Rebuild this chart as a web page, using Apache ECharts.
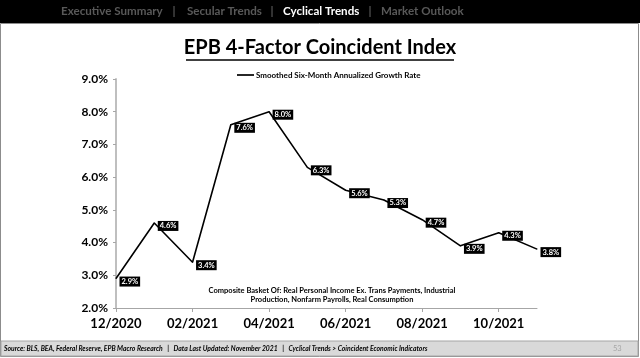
<!DOCTYPE html>
<html><head><meta charset="utf-8">
<script src="https://cdn.jsdelivr.net/npm/echarts@6/dist/echarts.min.js"></script>
<style>html,body{margin:0;padding:0;background:#fff;}#c{width:640px;height:358px;}</style>
</head><body><div id="c"></div>
<script>
const categories = ['12/2020','01/2021','02/2021','03/2021','04/2021','05/2021','06/2021','07/2021','08/2021','09/2021','10/2021','11/2021'];
const growthRate = [2.9, 4.6, 3.4, 7.6, 8.0, 6.3, 5.6, 5.3, 4.7, 3.9, 4.3, 3.8];
const seriesName = 'Smoothed Six-Month Annualized Growth Rate';
const yTicks = [2, 3, 4, 5, 6, 7, 8, 9];
const FONT = 'Lato';

const chart = echarts.init(document.getElementById('c'), null, {renderer:'canvas'});
const hdr = 'bold 11.6px ' + FONT;
chart.setOption({
  animation: false,
  textStyle: {fontFamily: FONT},
  graphic: [
    {type:'rect', shape:{x:0,y:0,width:640,height:23}, style:{fill:'#000'}, z:0},
    {type:'rect', shape:{x:0.5,y:23.5,width:638,height:333}, style:{fill:'none', stroke:'#8c8c8c', lineWidth:1}, z:0},
    {type:'rect', shape:{x:1,y:341,width:637,height:15}, style:{fill:'#d9d9d9', stroke:'#a6a6a6', lineWidth:1}, z:0},
    {type:'text', x:61, y:11, style:{text:'Executive Summary', fill:'#595959', font:hdr, textVerticalAlign:'middle'}},
    {type:'text', x:174, y:11, style:{text:'|', fill:'#595959', font:hdr, textAlign:'center', textVerticalAlign:'middle'}},
    {type:'text', x:187, y:11, style:{text:'Secular Trends', fill:'#595959', font:hdr, textVerticalAlign:'middle'}},
    {type:'text', x:272, y:11, style:{text:'|', fill:'#595959', font:hdr, textAlign:'center', textVerticalAlign:'middle'}},
    {type:'text', x:283, y:11, style:{text:'Cyclical Trends', fill:'#ffffff', font:hdr, textVerticalAlign:'middle'}},
    {type:'text', x:370, y:11, style:{text:'|', fill:'#595959', font:hdr, textAlign:'center', textVerticalAlign:'middle'}},
    {type:'text', x:381, y:11, style:{text:'Market Outlook', fill:'#595959', font:hdr, textVerticalAlign:'middle'}},
    {type:'text', x:320, y:48, style:{text:'EPB 4-Factor Coincident Index', fill:'#000', font:'bold 20px '+FONT, textAlign:'center', textVerticalAlign:'middle'}},
    {type:'line', shape:{x1:186,y1:60,x2:454,y2:60}, style:{stroke:'#000', lineWidth:1.5}},
    {type:'text', x:332, y:291, style:{text:'Composite Basket Of: Real Personal Income Ex. Trans Payments, Industrial', fill:'#000', font:'bold 7.5px '+FONT, textAlign:'center', textVerticalAlign:'middle'}},
    {type:'text', x:332, y:299.5, style:{text:'Production, Nonfarm Payrolls, Real Consumption', fill:'#000', font:'bold 7.5px '+FONT, textAlign:'center', textVerticalAlign:'middle'}},
    {type:'text', x:4, y:349, style:{text:'Source: BLS, BEA, Federal Reserve, EPB Macro Research   |   Data Last Updated: November 2021   |   Cyclical Trends > Coincident Economic Indicators', fill:'#000', font:'italic bold 6.8px '+FONT, textVerticalAlign:'middle'}},
    {type:'text', x:613, y:349, style:{text:'53', fill:'#a6a6a6', font:'7.5px '+FONT, textVerticalAlign:'middle'}}
  ],
  legend: {
    top: 66, left: 232,
    icon: 'path://M0,0 L20,0 L20,2 L0,2 Z',
    itemWidth: 17, itemHeight: 2, itemGap: 4,
    textStyle: {fontSize: 8, fontWeight: 'bold', color:'#000', fontFamily: FONT, padding:[0,0,0,-3]},
    data: [seriesName]
  },
  grid: {left:116, right:103, top:79, bottom:50, containLabel:false},
  xAxis: {
    type:'category', boundaryGap:false, data: categories,
    axisLine:{lineStyle:{color:'#a6a6a6', width:1}},
    axisTick:{show:true, interval:1, length:4, lineStyle:{color:'#a6a6a6'}},
    axisLabel:{interval:1, fontSize:13, fontWeight:'bold', color:'#000', margin:9, fontFamily: FONT},
    splitLine:{show:false}
  },
  yAxis: {
    type:'value', min: yTicks[0], max: yTicks[yTicks.length-1], interval:1,
    axisLine:{show:true, lineStyle:{color:'#bfbfbf', width:2}},
    axisTick:{show:true, length:3, lineStyle:{color:'#a6a6a6'}},
    axisLabel:{formatter: v => v.toFixed(1)+'%', fontSize:12, fontWeight:'bold', color:'#000', margin:8, fontFamily: FONT},
    splitLine:{show:false}
  },
  series: [{
    name: seriesName, type:'line', data: growthRate,
    symbol:'circle', symbolSize:1, showSymbol:true,
    lineStyle:{color:'#000', width:1.6}, itemStyle:{color:'#000'},
    label:{show:true, position:'right', distance:3, offset:[0,3], formatter: p => p.value.toFixed(1)+'%',
      backgroundColor:'#000', color:'#fff', fontSize:7.5, fontWeight:'bold', padding:[1,2,1,2], fontFamily: FONT}
  }]
});
</script></body></html>
